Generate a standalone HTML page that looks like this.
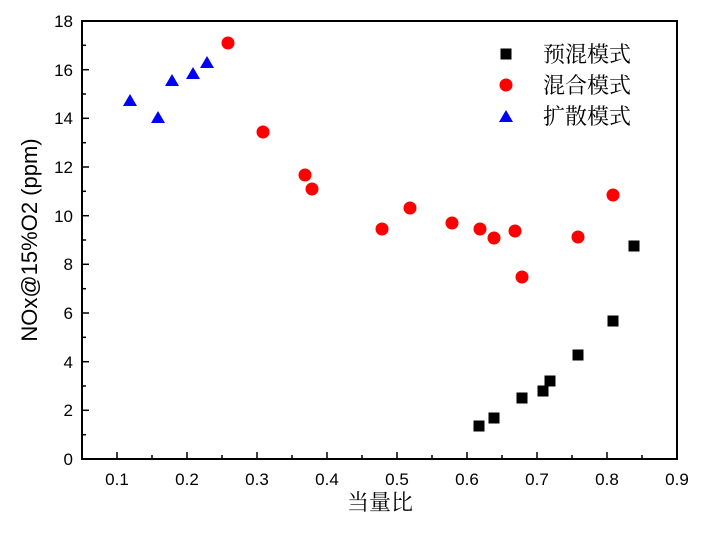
<!DOCTYPE html>
<html><head><meta charset="utf-8"><style>body{margin:0;background:#fff}</style></head><body>
<svg width="701" height="528" xmlns="http://www.w3.org/2000/svg" font-family="Liberation Sans, Arial, sans-serif">
<rect x="82" y="21" width="595" height="438" fill="none" stroke="#000" stroke-width="2"/>
<g stroke="#000" stroke-width="1.5">
<line x1="117" y1="459" x2="117" y2="452"/><line x1="152" y1="459" x2="152" y2="455"/>
<line x1="187" y1="459" x2="187" y2="452"/><line x1="222" y1="459" x2="222" y2="455"/>
<line x1="257" y1="459" x2="257" y2="452"/><line x1="292" y1="459" x2="292" y2="455"/>
<line x1="327" y1="459" x2="327" y2="452"/><line x1="362" y1="459" x2="362" y2="455"/>
<line x1="397" y1="459" x2="397" y2="452"/><line x1="432" y1="459" x2="432" y2="455"/>
<line x1="467" y1="459" x2="467" y2="452"/><line x1="502" y1="459" x2="502" y2="455"/>
<line x1="537" y1="459" x2="537" y2="452"/><line x1="572" y1="459" x2="572" y2="455"/>
<line x1="607" y1="459" x2="607" y2="452"/><line x1="642" y1="459" x2="642" y2="455"/>
<line x1="82" y1="410.3" x2="89" y2="410.3"/><line x1="82" y1="361.7" x2="89" y2="361.7"/>
<line x1="82" y1="313" x2="89" y2="313"/><line x1="82" y1="264.3" x2="89" y2="264.3"/>
<line x1="82" y1="215.7" x2="89" y2="215.7"/><line x1="82" y1="167" x2="89" y2="167"/>
<line x1="82" y1="118.3" x2="89" y2="118.3"/><line x1="82" y1="69.7" x2="89" y2="69.7"/>
<line x1="82" y1="434.7" x2="86" y2="434.7"/><line x1="82" y1="386" x2="86" y2="386"/>
<line x1="82" y1="337.3" x2="86" y2="337.3"/><line x1="82" y1="288.7" x2="86" y2="288.7"/>
<line x1="82" y1="240" x2="86" y2="240"/><line x1="82" y1="191.3" x2="86" y2="191.3"/>
<line x1="82" y1="142.7" x2="86" y2="142.7"/><line x1="82" y1="94" x2="86" y2="94"/>
<line x1="82" y1="45.3" x2="86" y2="45.3"/>
</g>
<g font-size="17" text-anchor="middle" fill="#000">
<text x="117" y="485">0.1</text><text x="187" y="485">0.2</text><text x="257" y="485">0.3</text>
<text x="327" y="485">0.4</text><text x="397" y="485">0.5</text><text x="467" y="485">0.6</text>
<text x="537" y="485">0.7</text><text x="607" y="485">0.8</text><text x="677" y="485">0.9</text>
</g>
<g font-size="17" text-anchor="end" fill="#000">
<text x="73" y="465">0</text><text x="73" y="416">2</text><text x="73" y="368">4</text>
<text x="73" y="319">6</text><text x="73" y="270">8</text><text x="73" y="222">10</text>
<text x="73" y="173">12</text><text x="73" y="124">16</text>
</g>
<g font-size="17" text-anchor="end" fill="#000"><text x="73" y="76">16</text><text x="73" y="27">18</text></g>
<rect x="40" y="110" width="40" height="20" fill="#fff"/>
<text x="73" y="124" font-size="17" text-anchor="end">14</text>
<text transform="translate(37,240) rotate(-90)" font-size="22" text-anchor="middle">NOx@15%O2 (ppm)</text>
<text x="380" y="510" font-size="22" text-anchor="middle" font-family="Noto Serif CJK SC, serif">当量比</text>
<g fill="#000">
<rect x="473.5" y="420.5" width="11" height="11"/><rect x="488.5" y="412.5" width="11" height="11"/>
<rect x="516.5" y="392.5" width="11" height="11"/><rect x="537.5" y="385.5" width="11" height="11"/>
<rect x="544.5" y="375.5" width="11" height="11"/><rect x="572.5" y="349.5" width="11" height="11"/>
<rect x="607.5" y="315.5" width="11" height="11"/><rect x="628.5" y="240.5" width="11" height="11"/>
<rect x="500.5" y="48.5" width="11" height="11"/>
</g>
<g fill="#f00">
<circle cx="228" cy="43" r="6.5"/><circle cx="263" cy="132" r="6.5"/><circle cx="305" cy="175" r="6.5"/>
<circle cx="312" cy="189" r="6.5"/><circle cx="382" cy="229" r="6.5"/><circle cx="410" cy="208" r="6.5"/>
<circle cx="452" cy="223" r="6.5"/><circle cx="480" cy="229" r="6.5"/><circle cx="494" cy="238" r="6.5"/>
<circle cx="515" cy="231" r="6.5"/><circle cx="522" cy="277" r="6.5"/><circle cx="578" cy="237" r="6.5"/>
<circle cx="613" cy="195" r="6.5"/><circle cx="506" cy="85" r="6.5"/>
</g>
<g fill="#00f">
<polygon points="130,94 137,106 123,106"/><polygon points="158,111 165,123 151,123"/>
<polygon points="172,74 179,86 165,86"/><polygon points="193,67 200,79 186,79"/>
<polygon points="207,56 214,68 200,68"/><polygon points="506,110 513,122 499,122"/>
</g>
<g font-size="22" font-family="Noto Serif CJK SC, serif" fill="#000">
<text x="543" y="62">预混模式</text><text x="543" y="93">混合模式</text><text x="543" y="124">扩散模式</text>
</g>
</svg>
</body></html>
